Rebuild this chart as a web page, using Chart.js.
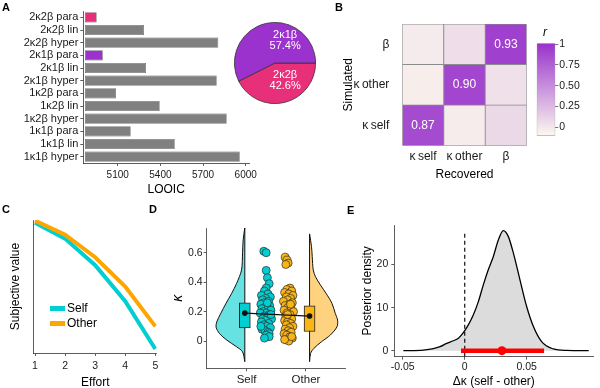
<!DOCTYPE html>
<html lang="en">
<head>
  <meta charset="UTF-8">
  <title>Model comparison, parameter recovery and effort discounting</title>
  <script src="https://cdn.jsdelivr.net/npm/chart.js"></script>
  <style>
    body { margin: 0; background: #fff; }
    #figure { position: relative; width: 600px; height: 388px; overflow: hidden;
      font-family: "Liberation Sans", Arial, sans-serif; color: #000; }
    #figure canvas { position: absolute; }
    .tag { position: absolute; font-size: 11px; line-height: 11px; font-weight: bold; }
    .note { position: absolute; font-size: 12px; line-height: 12px; white-space: nowrap; }
    .swatch { position: absolute; width: 15px; height: 5px; }
  </style>
</head>
<body>
<div id="figure">
  <canvas id="chartA" width="262" height="200" style="left:0px;top:0px"></canvas>
  <canvas id="chartPie" width="82" height="82" style="left:234px;top:22px"></canvas>
  <canvas id="chartB" width="192" height="185" style="left:340px;top:0px"></canvas>
  <canvas id="chartBar" width="70" height="115" style="left:530px;top:28px"></canvas>
  <canvas id="chartC" width="165" height="192" style="left:0px;top:200px"></canvas>
  <canvas id="chartD" width="190" height="192" style="left:160px;top:200px"></canvas>
  <canvas id="chartE" width="250" height="192" style="left:350px;top:200px"></canvas>

  <div class="tag" style="left:2px;top:2px">A</div>
  <div class="tag" style="left:335px;top:2px">B</div>
  <div class="tag" style="left:2px;top:204px">C</div>
  <div class="tag" style="left:149px;top:204px">D</div>
  <div class="tag" style="left:347px;top:205px">E</div>

  <div class="note" style="left:543px;top:26px;font-style:italic">r</div>

  <div class="swatch" style="left:50px;top:306px;background:#00CED1"></div>
  <div class="note" style="left:67px;top:302px">Self</div>
  <div class="swatch" style="left:50px;top:321px;background:#FFA500"></div>
  <div class="note" style="left:67px;top:317px">Other</div>
</div>

<script>
  // ---- A: model comparison ----
  const modelNames = ['2κ2β para', '2κ2β lin', '2κ2β hyper', '2κ1β para', '2κ1β lin', '2κ1β hyper',
                      '1κ2β para', '1κ2β lin', '1κ2β hyper', '1κ1β para', '1κ1β lin', '1κ1β hyper'];
  const looic = [4952, 5285, 5807, 4995, 5299, 5796, 5088, 5395, 5866, 5191, 5501, 5958];
  const looicTicks = [5100, 5400, 5700, 6000];

  const pieLabels = ['2κ2β', '2κ1β'];
  const pieShare = [42.6, 57.4];

  // ---- B: parameter recovery ----
  const recLabels = ['κ\u2009self', 'κ\u2009other', 'β'];
  const simLabels = ['κ\u2009self', 'κ\u2009other', 'β'];   // bottom to top
  const corrKself = [0.87, -0.03, 0.08];
  const corrKother = [-0.04, 0.90, 0.04];
  const corrBeta = [-0.02, 0.05, 0.93];
  const barTicks = [0, 0.25, 0.5, 0.75, 1];

  // ---- C: subjective value ----
  const effort = [1, 2, 3, 4, 5];
  const svSelf = [0.98, 0.86, 0.66, 0.39, 0.03];
  const svOther = [0.995, 0.89, 0.72, 0.50, 0.20];

  // ---- D: kappa per agent ----
  const groupNames = ['Self', 'Other'];
  const selfK = [0.61, 0.60, 0.48, 0.43, 0.39, 0.36, 0.34, 0.32, 0.31, 0.30, 0.29, 0.28, 0.27, 0.26, 0.25,
                 0.25, 0.24, 0.23, 0.22, 0.22, 0.21, 0.20, 0.19, 0.19, 0.18, 0.17, 0.16, 0.15, 0.15, 0.14,
                 0.13, 0.12, 0.11, 0.10, 0.09, 0.08, 0.07, 0.06, 0.05, 0.04, 0.03, 0.02, 0.10, 0.18, 0.26];
  const selfJit = [1.29, 1.33, 1.33, 1.35, 1.38, 1.33, 1.30, 1.36, 1.25, 1.40, 1.32, 1.27, 1.37, 1.29, 1.34,
                   1.24, 1.39, 1.31, 1.26, 1.36, 1.41, 1.28, 1.33, 1.23, 1.38, 1.30, 1.35, 1.27, 1.42, 1.32,
                   1.25, 1.37, 1.29, 1.34, 1.40, 1.26, 1.31, 1.36, 1.38, 1.33, 1.38, 1.30, 1.24, 1.41, 1.35];
  const otherK = [0.57, 0.55, 0.53, 0.52, 0.36, 0.35, 0.34, 0.33, 0.32, 0.31, 0.30, 0.29, 0.28, 0.27, 0.26,
                  0.25, 0.24, 0.23, 0.22, 0.21, 0.20, 0.19, 0.18, 0.17, 0.16, 0.15, 0.14, 0.13, 0.12, 0.11,
                  0.10, 0.09, 0.08, 0.07, 0.06, 0.05, 0.04, 0.03, 0.02, 0.01, 0.00, 0.01, 0.03, 0.18, 0.25];
  const otherJit = [1.65, 1.68, 1.70, 1.66, 1.73, 1.68, 1.76, 1.64, 1.71, 1.78, 1.67, 1.74, 1.69, 1.62, 1.77,
                    1.72, 1.65, 1.70, 1.75, 1.63, 1.79, 1.68, 1.73, 1.66, 1.71, 1.76, 1.64, 1.69, 1.74, 1.67,
                    1.78, 1.72, 1.65, 1.70, 1.75, 1.63, 1.68, 1.73, 1.77, 1.66, 1.71, 1.64, 1.76, 1.69, 1.74];
  const boxX = [0.97, 2.06];
  const boxLow = [0.09, 0.065];
  const boxHigh = [0.26, 0.24];
  const meanK = [0.19, 0.17];
  const selfViolinK = [-0.14, -0.073, -0.039, 0.007, 0.052, 0.093, 0.131, 0.188, 0.256, 0.324, 0.392, 0.483, 0.6, 0.687, 0.77];
  const selfViolinW = [0, 0.038, 0.138, 0.305, 0.428, 0.483, 0.472, 0.405, 0.317, 0.222, 0.138, 0.055, 0.038, 0.028, 0];
  const otherViolinK = [-0.14, -0.084, -0.05, -0.005, 0.041, 0.097, 0.143, 0.188, 0.256, 0.324, 0.381, 0.437, 0.483, 0.573, 0.642, 0.728];
  const otherViolinW = [0, 0.017, 0.072, 0.2, 0.35, 0.462, 0.472, 0.433, 0.378, 0.278, 0.183, 0.1, 0.062, 0.045, 0.033, 0];

  // ---- E: posterior of the difference ----
  const dkX = [-0.0495, -0.0334, -0.0253, -0.0199, -0.0145, -0.0092, -0.0051, -0.0011, 0.0029, 0.0069,
               0.011, 0.015, 0.019, 0.0231, 0.0271, 0.0311, 0.0352, 0.0393, 0.0446, 0.05, 0.0554, 0.062,
               0.0715, 0.082, 0.1];
  const dkDens = [0, 0.15, 0.47, 0.93, 1.7, 2.3, 2.9, 4.2, 6.0, 8.3, 11.4, 15.3, 18.8, 21.9, 25.7, 27.9,
                  26.5, 22.6, 16.4, 10.2, 5.6, 2.1, 0.4, 0.05, 0];
  const hdiLow = -0.003, hdiHigh = 0.064, dkMean = 0.030;

  // ---- styling ----
  const PINK = '#E8307A', PURPLE = '#9B32CD', GREY = '#808080';
  const CYAN = '#00CED1', ORANGE = '#FFA500', GOLD = '#F9B415';
  const LOW = [252, 249, 238], HIGH = [153, 50, 204], COL_LIM = [-0.1, 1.01];

  Chart.defaults.font.family = '"Liberation Sans", Arial, sans-serif';
  Chart.defaults.font.size = 10.5;
  Chart.defaults.color = '#1a1a1a';
  Chart.defaults.animation = false;
  Chart.defaults.responsive = false;
  Chart.defaults.plugins.legend.display = false;
  Chart.defaults.plugins.tooltip.enabled = false;

  const fixW = w => s => { s.width = w; };
  const fixH = h => s => { s.height = h; };
  const setTicks = vals => s => { s.ticks = vals.map(v => ({ value: v })); };
  const gridOpt = () => ({ drawOnChartArea: false, drawTicks: true, tickLength: 3, color: '#333', lineWidth: 0.8, offset: false });
  const borderOpt = () => ({ display: true, color: '#333', width: 0.8 });
  const titleFont = { size: 12 };

  function colourOf(v) {
    const t = Math.min(1, Math.max(0, (v - COL_LIM[0]) / (COL_LIM[1] - COL_LIM[0])));
    const c = LOW.map((lo, i) => Math.round(lo + (HIGH[i] - lo) * t));
    return `rgb(${c[0]},${c[1]},${c[2]})`;
  }
  function barColour(name) {
    if (name === '2κ2β para') return PINK;
    if (name === '2κ1β para') return PURPLE;
    return GREY;
  }

  // A
  new Chart(document.getElementById('chartA'), {
    type: 'bar',
    data: {
      labels: modelNames,
      datasets: [{
        data: looic, base: 4870,
        backgroundColor: modelNames.map(barColour),
        borderColor: '#555', borderWidth: 0.6, borderSkipped: false,
        barPercentage: 0.8, categoryPercentage: 1
      }]
    },
    options: {
      indexAxis: 'y',
      layout: { padding: { top: 11, right: 13, left: 0, bottom: 0 } },
      scales: {
        x: {
          type: 'linear', min: 4858, max: 6023,
          afterBuildTicks: setTicks(looicTicks), afterFit: fixH(37),
          grid: gridOpt(), border: borderOpt(),
          ticks: { padding: 3, font: { size: 10 }, callback: v => String(v) },
          title: { display: true, text: 'LOOIC', font: titleFont, color: '#000', padding: { top: 0, bottom: 3 } }
        },
        y: {
          afterFit: fixW(83.3),
          grid: gridOpt(), border: borderOpt(),
          ticks: { padding: 2, font: { size: 11 }, autoSkip: false }
        }
      }
    }
  });

  // pie
  const pieText = {
    id: 'pieText',
    afterDatasetsDraw(chart) {
      const arcs = chart.getDatasetMeta(0).data;
      const { ctx } = chart;
      ctx.save();
      ctx.fillStyle = '#fff';
      ctx.font = '11px "Liberation Sans", Arial, sans-serif';
      ctx.textAlign = 'center';
      ctx.textBaseline = 'middle';
      arcs.forEach((arc, i) => {
        const R = arc.outerRadius;
        const x = arc.x + 0.25 * R;
        const y = i === 0 ? arc.y + 0.42 * R : arc.y - 0.55 * R;
        ctx.fillText(pieLabels[i], x, y - 5.5);
        ctx.fillText(pieShare[i].toFixed(1) + '%', x, y + 5.5);
      });
      ctx.restore();
    }
  };
  new Chart(document.getElementById('chartPie'), {
    type: 'pie',
    data: {
      labels: pieLabels,
      datasets: [{ data: pieShare, backgroundColor: [PINK, PURPLE], borderColor: '#333', borderWidth: 0.8 }]
    },
    options: { rotation: 90, layout: { padding: 0 } },
    plugins: [pieText]
  });

  // B heatmap
  const simRows = [corrKself, corrKother, corrBeta];
  const cellText = {
    id: 'cellText',
    afterDatasetsDraw(chart) {
      const { ctx } = chart;
      ctx.save();
      ctx.fillStyle = '#fff';
      ctx.font = '12px "Liberation Sans", Arial, sans-serif';
      ctx.textAlign = 'center';
      ctx.textBaseline = 'middle';
      chart.data.datasets.forEach((ds, i) => {
        chart.getDatasetMeta(i).data.forEach((bar, j) => {
          const r = ds.corr[j];
          if (r > 0.5) ctx.fillText(r.toFixed(2), bar.x, (bar.y + bar.base) / 2);
        });
      });
      ctx.restore();
    }
  };
  new Chart(document.getElementById('chartB'), {
    type: 'bar',
    data: {
      labels: recLabels,
      datasets: simRows.map((row, i) => ({
        label: simLabels[i], corr: row, data: row.map(() => 1),
        backgroundColor: row.map(colourOf),
        borderColor: '#8c8c8c', borderWidth: 0.8, borderSkipped: false,
        barPercentage: 1, categoryPercentage: 1
      }))
    },
    options: {
      layout: { padding: { top: 24, right: 5.3, left: 0, bottom: 0 } },
      scales: {
        x: {
          stacked: true, afterFit: fixH(39.3),
          grid: { display: false }, border: { display: false },
          ticks: { padding: -4, font: { size: 12 }, maxRotation: 0, minRotation: 0, autoSkip: false },
          title: { display: true, text: 'Recovered', font: titleFont, color: '#000', padding: { top: 0, bottom: 3.5 } }
        },
        y: {
          stacked: true, min: 0, max: 3,
          afterBuildTicks: setTicks([0.5, 1.5, 2.5]), afterFit: fixW(62.3),
          grid: { display: false }, border: { display: false },
          ticks: { padding: 5, font: { size: 12 }, callback: v => simLabels[Math.floor(v)] },
          title: { display: true, text: 'Simulated', font: titleFont, color: '#000', padding: { top: 1.5 } }
        }
      }
    },
    plugins: [cellText]
  });

  // colour bar
  new Chart(document.getElementById('chartBar'), {
    type: 'bar',
    data: {
      labels: ['r'],
      datasets: [{
        data: [COL_LIM],
        backgroundColor(ctx) {
          const { chart } = ctx;
          if (!chart.chartArea) return null;
          const ys = chart.scales.y;
          const g = chart.ctx.createLinearGradient(0, ys.getPixelForValue(COL_LIM[0]), 0, ys.getPixelForValue(COL_LIM[1]));
          g.addColorStop(0, colourOf(COL_LIM[0]));
          g.addColorStop(1, colourOf(COL_LIM[1]));
          return g;
        },
        borderColor: '#999', borderWidth: 0.8, borderSkipped: false,
        barPercentage: 1, categoryPercentage: 1
      }]
    },
    options: {
      layout: { padding: { left: 6.7, top: 15.3, bottom: 5.7, right: 0 } },
      scales: {
        x: { display: false },
        y: {
          position: 'right', min: COL_LIM[0], max: COL_LIM[1],
          afterBuildTicks: setTicks(barTicks), afterFit: fixW(44.7),
          grid: { drawOnChartArea: false, tickLength: 3, color: '#555', lineWidth: 0.8 },
          border: { display: false },
          ticks: { padding: 1, font: { size: 10.5 }, callback: v => (v === 0 || v === 1) ? String(v) : v.toFixed(2) }
        }
      }
    }
  });

  // C
  new Chart(document.getElementById('chartC'), {
    type: 'line',
    data: {
      datasets: [
        { label: 'Other', data: effort.map((e, i) => ({ x: e, y: svOther[i] })), borderColor: ORANGE, borderWidth: 4, pointRadius: 0 },
        { label: 'Self', data: effort.map((e, i) => ({ x: e, y: svSelf[i] })), borderColor: CYAN, borderWidth: 4, pointRadius: 0 }
      ]
    },
    options: {
      layout: { padding: { top: 20, right: 8.2, left: 0, bottom: 0 } },
      scales: {
        x: {
          type: 'linear', min: 0.96, max: 5.05,
          afterBuildTicks: setTicks(effort), afterFit: fixH(39),
          grid: gridOpt(), border: borderOpt(),
          ticks: { padding: 3.5, font: { size: 10.5 } },
          title: { display: true, text: 'Effort', font: titleFont, color: '#000', padding: { top: 0, bottom: 2 } }
        },
        y: {
          min: 0, max: 1, afterFit: fixW(33.8),
          ticks: { display: false }, grid: { display: false }, border: borderOpt(),
          title: { display: true, text: 'Subjective value', font: titleFont, color: '#000', padding: { top: 8.3 } }
        }
      }
    }
  });

  // D
  const violinPath = (ks, ws, base, dir) => ks.map((k, i) => ({ x: base + dir * ws[i], y: k }));
  const edge = (ks, base) => [{ x: base, y: Math.min(...ks) }, { x: base, y: Math.max(...ks) }];
  new Chart(document.getElementById('chartD'), {
    type: 'scatter',
    data: {
      datasets: [
        { data: boxX.map((x, i) => ({ x, y: meanK[i] })), showLine: true, borderColor: '#111', borderWidth: 1.2,
          pointRadius: 2.8, pointBackgroundColor: '#111', pointBorderWidth: 0, order: 0 },
        { type: 'bar', data: boxX.map((x, i) => ({ x, y: [boxLow[i], boxHigh[i]] })), barThickness: 11,
          backgroundColor: [CYAN, GOLD], borderColor: '#222', borderWidth: 1, borderSkipped: false, order: 1 },
        { data: selfK.map((k, i) => ({ x: selfJit[i], y: k })), pointRadius: 4, backgroundColor: CYAN,
          borderColor: '#2b2b2b', borderWidth: 0.7, order: 2 },
        { data: otherK.map((k, i) => ({ x: otherJit[i], y: k })), pointRadius: 4, backgroundColor: GOLD,
          borderColor: '#2b2b2b', borderWidth: 0.7, order: 3 },
        { data: edge(selfViolinK, boxX[0]), showLine: true, borderColor: '#111', borderWidth: 1, pointRadius: 0, order: 4 },
        { data: edge(otherViolinK, boxX[1]), showLine: true, borderColor: '#111', borderWidth: 1, pointRadius: 0, order: 4 },
        { data: violinPath(selfViolinK, selfViolinW, boxX[0], -1), showLine: true, fill: 'shape', tension: 0.3,
          backgroundColor: 'rgba(0,206,209,0.6)', borderColor: '#111', borderWidth: 1, pointRadius: 0, order: 5 },
        { data: violinPath(otherViolinK, otherViolinW, boxX[1], 1), showLine: true, fill: 'shape', tension: 0.3,
          backgroundColor: 'rgba(255,165,0,0.5)', borderColor: '#111', borderWidth: 1, pointRadius: 0, order: 5 }
      ]
    },
    options: {
      layout: { padding: { top: 28, right: 3.3, left: 0, bottom: 0 } },
      scales: {
        x: {
          type: 'linear', min: 0.328, max: 2.662, offset: false,
          afterBuildTicks: setTicks([1, 2]), afterFit: fixH(23.7),
          grid: gridOpt(), border: borderOpt(),
          ticks: { padding: 2, font: { size: 11.5 }, callback: v => groupNames[v - 1] }
        },
        y: {
          min: -0.185, max: 0.768,
          afterBuildTicks: setTicks([0, 0.2, 0.4, 0.6]), afterFit: fixW(46.7),
          grid: gridOpt(), border: borderOpt(),
          ticks: { padding: 1, font: { size: 10.5 }, callback: v => v === 0 ? '0' : v.toFixed(1) },
          title: { display: true, text: 'κ', font: { size: 14, style: 'italic' }, color: '#000', padding: { top: 10 } }
        }
      }
    }
  });

  // E
  new Chart(document.getElementById('chartE'), {
    type: 'scatter',
    data: {
      datasets: [
        { data: [{ x: dkMean, y: 0 }], pointRadius: 4.5, backgroundColor: '#FF0000', borderWidth: 0, order: 0 },
        { data: [{ x: hdiLow, y: 0 }, { x: hdiHigh, y: 0 }], showLine: true, borderColor: '#FF0000', borderWidth: 4.5,
          pointRadius: 0, order: 1 },
        { data: [{ x: 0, y: -1.4 }, { x: 0, y: 27.3 }], showLine: true, borderColor: '#111', borderWidth: 1.2,
          borderDash: [4, 3], pointRadius: 0, order: 2 },
        { data: dkX.map((x, i) => ({ x, y: dkDens[i] })), showLine: true, fill: 'origin',
          cubicInterpolationMode: 'monotone', backgroundColor: '#DCDCDC', borderColor: '#000', borderWidth: 1.3,
          pointRadius: 0, order: 3 }
      ]
    },
    options: {
      layout: { padding: { top: 25, right: 6.7, left: 0, bottom: 0 } },
      scales: {
        x: {
          min: -0.0568, max: 0.1037,
          afterBuildTicks: setTicks([-0.05, 0, 0.05]), afterFit: fixH(35.3),
          grid: gridOpt(), border: borderOpt(),
          ticks: { padding: 1, font: { size: 10.5 }, callback: v => v === 0 ? '0' : v.toFixed(2) },
          title: { display: true, text: 'Δκ (self - other)', font: titleFont, color: '#000', padding: { top: 0, bottom: 2.8 } }
        },
        y: {
          min: -1.4, max: 29.2,
          afterBuildTicks: setTicks([0, 10, 20]), afterFit: fixW(44.3),
          grid: gridOpt(), border: borderOpt(),
          ticks: { padding: 3, font: { size: 10.5 } },
          title: { display: true, text: 'Posterior density', font: titleFont, color: '#000', padding: { top: 10.5 } }
        }
      }
    }
  });
</script>
</body>
</html>
